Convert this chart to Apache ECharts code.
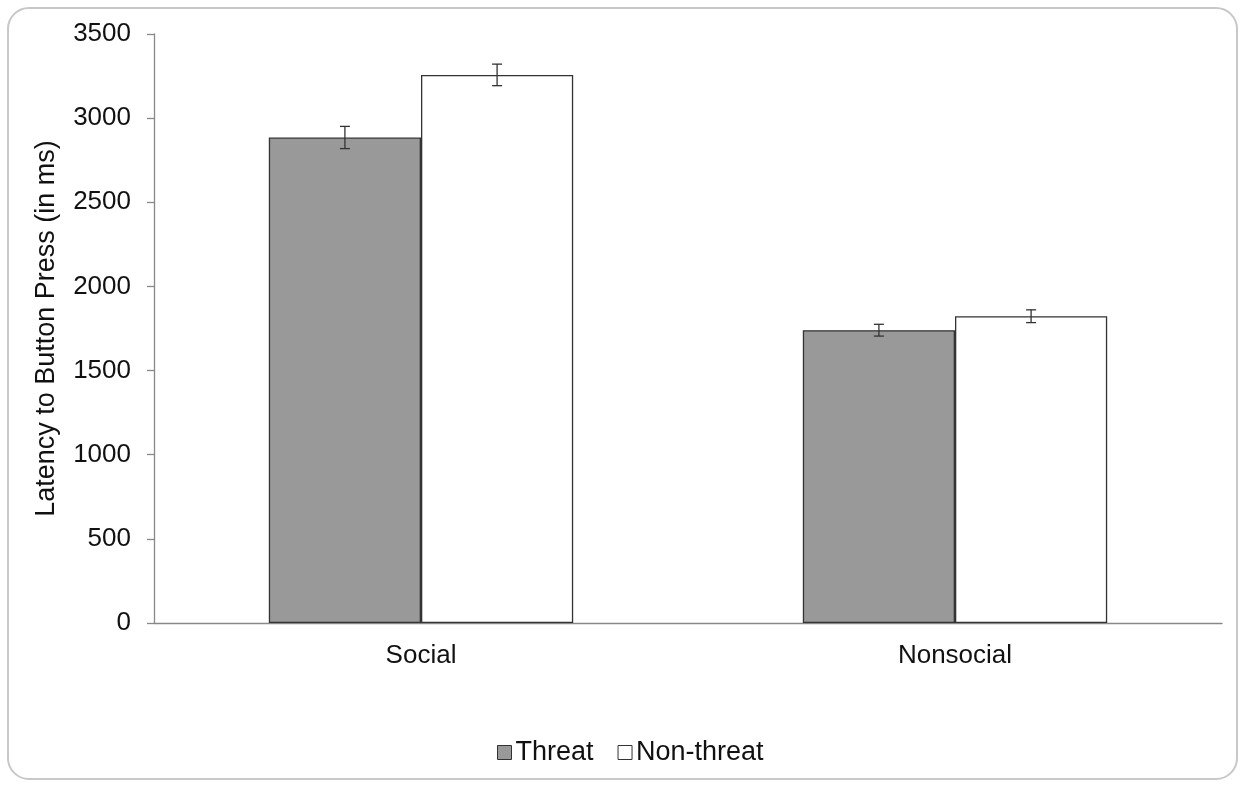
<!DOCTYPE html>
<html lang="en">
<head>
    <meta charset="UTF-8">
    <title>Latency to Button Press</title>
    <script src="https://cdn.jsdelivr.net/npm/echarts@6/dist/echarts.min.js"></script>
    <style>
        html, body { margin: 0; padding: 0; background: #fff; }
        #frame {
            position: absolute; left: 7px; top: 7px; width: 1231px; height: 773px;
            border: 2px solid #c8c8c8; border-radius: 22px; box-sizing: border-box;
        }
        #main { position: absolute; left: 0; top: 0; width: 1243px; height: 785px; }
    </style>
</head>
<body>
<div id="frame"></div>
<div id="main"></div>
<script>
    var categories = ['Social', 'Nonsocial'];
    var threat = [2885, 1740];
    var threatErr = [66, 35];
    var nonThreat = [3257, 1823];
    var nonThreatErr = [64, 38];
    var yTicks = [0, 500, 1000, 1500, 2000, 2500, 3000, 3500];

    var barPct = 0.285;

    // error bars drawn at the centre of each bar
    function errorSeries(name, vals, errs, side) {
        return {
            name: name + ' err',
            type: 'custom',
            silent: true,
            z: 5,
            data: vals.map(function (v, i) { return [i, v - errs[i], v + errs[i]]; }),
            renderItem: function (params, api) {
                var band = api.size([1, 0])[0];
                var off = side * band * barPct / 2;
                var lo = api.coord([api.value(0), api.value(1)]);
                var hi = api.coord([api.value(0), api.value(2)]);
                var x = lo[0] + off;
                var cap = 5;
                var st = { stroke: '#333', lineWidth: 1.3 };
                return {
                    type: 'group',
                    children: [
                        { type: 'line', shape: { x1: x, y1: lo[1], x2: x, y2: hi[1] }, style: st },
                        { type: 'line', shape: { x1: x - cap, y1: lo[1], x2: x + cap, y2: lo[1] }, style: st },
                        { type: 'line', shape: { x1: x - cap, y1: hi[1], x2: x + cap, y2: hi[1] }, style: st }
                    ]
                };
            }
        };
    }

    var myChart = echarts.init(document.getElementById('main'));
    myChart.setOption({
        animation: false,
        textStyle: { fontFamily: 'Liberation Sans, Arial, sans-serif', color: '#111' },
        grid: { left: 154, right: 21, top: 34, bottom: 162 },
        legend: {
            top: 734,
            left: 492,
            itemWidth: 14,
            itemHeight: 14,
            itemGap: 24,
            textStyle: { fontSize: 27, color: '#111', padding: [0, 0, 0, -1] },
            data: [
                { name: 'Threat', icon: 'rect', itemStyle: { color: '#999', borderColor: '#333', borderWidth: 1 } },
                { name: 'Non-threat', icon: 'rect', itemStyle: { color: '#fff', borderColor: '#333', borderWidth: 1 } }
            ]
        },
        xAxis: {
            type: 'category',
            data: categories,
            axisLine: { lineStyle: { color: '#888', width: 1.3 } },
            axisTick: { show: false },
            axisLabel: { fontSize: 26, color: '#111', margin: 20 }
        },
        yAxis: {
            type: 'value',
            min: yTicks[0],
            max: yTicks[yTicks.length - 1],
            interval: 500,
            name: 'Latency to Button Press (in ms)',
            nameLocation: 'middle',
            nameGap: 94,
            nameTextStyle: { fontSize: 27, color: '#111' },
            axisLine: { show: true, lineStyle: { color: '#888', width: 1.3 } },
            axisTick: { show: true, length: 7, lineStyle: { color: '#888', width: 1.3 } },
            axisLabel: { fontSize: 26, color: '#111', margin: 23, formatter: function (v) { return String(v); } },
            splitLine: { show: false }
        },
        series: [
            {
                name: 'Threat',
                type: 'bar',
                data: threat,
                barWidth: (barPct * 100) + '%',
                barGap: '0%',
                itemStyle: { color: '#999', borderColor: '#333', borderWidth: 1.3 }
            },
            {
                name: 'Non-threat',
                type: 'bar',
                data: nonThreat,
                barWidth: (barPct * 100) + '%',
                barGap: '0%',
                itemStyle: { color: '#fff', borderColor: '#333', borderWidth: 1.3 }
            },
            errorSeries('Threat', threat, threatErr, -1),
            errorSeries('Non-threat', nonThreat, nonThreatErr, 1)
        ]
    });
</script>
</body>
</html>
